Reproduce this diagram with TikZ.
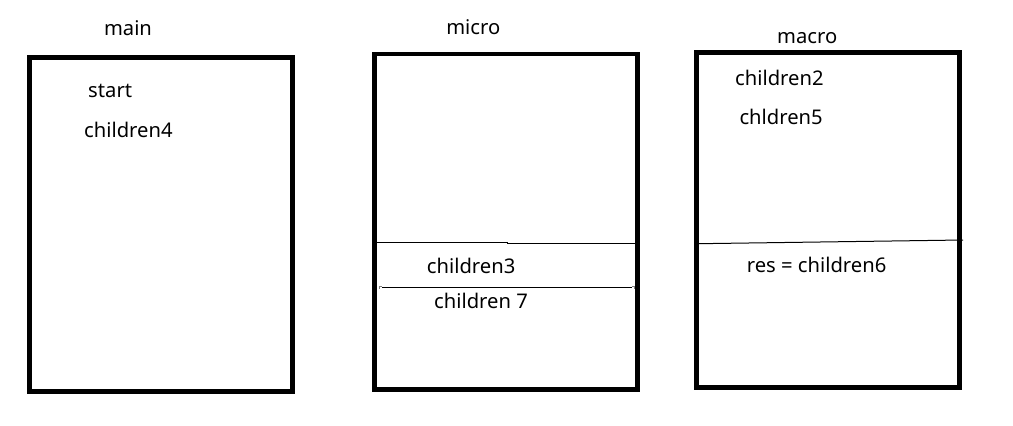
\documentclass[tikz,border=0pt]{standalone}
\usepackage{fontspec}
\setmainfont{Noto Sans}
\begin{document}
\begin{tikzpicture}[x=1pt,y=-1pt,
  frame/.style={draw=black,line width=4.6pt},
  divider/.style={draw=black,line width=1pt},
  tick/.style={draw=gray,line width=0.8pt},
  lbl/.style={anchor=base west,inner sep=0pt,font=\fontsize{20.2}{22}\selectfont},
  ttl/.style={anchor=base,inner sep=0pt,font=\fontsize{20.2}{22}\selectfont}]
\useasboundingbox[fill=white] (0,0) rectangle (1013,426);
% boxes
\draw[frame] (29.7,57.5) rectangle (292.6,391.6);
\draw[frame] (374.3,54) rectangle (637.7,389.3);
\draw[frame] (696.3,52.3) rectangle (959.7,387.7);
% dividers
\coordinate (d1a) at (376.6,242.7);
\coordinate (d1m) at (507,242.7);
\coordinate (d1n) at (507,243.7);
\coordinate (d1b) at (635.4,243.7);
\draw[divider] (d1a) -- (d1m) -- (d1n) -- (d1b);
\coordinate (d2a) at (382,287);
\coordinate (d2b) at (632,287);
\draw[divider] (d2a) -- (d2b);
\draw[tick] (379,289) -- (379,286) -- (382,286);
\draw[tick] (632,286) -- (634,286) -- (634,289);
\coordinate (d3a) at (698.6,243.7);
\coordinate (d3b) at (963,240);
\draw[divider] (d3a) -- (d3b);
% titles
\node[ttl] (tmain) at (128,35) {main};
\node[ttl] (tmicro) at (473.3,34) {micro};
\node[ttl] (tmacro) at (807.2,43) {macro};
% labels
\node[lbl] (start) at (88,97) {start};
\node[lbl] (c4) at (84,137) {children4};
\node[lbl] (c3) at (426.7,273) {children3};
\node[lbl] (c7) at (434,308) {children 7};
\node[lbl] (c2) at (735,85) {children2};
\node[lbl] (c5) at (739.3,124) {chldren5};
\node[lbl] (c6) at (746.7,272.7) {res = children6};
\end{tikzpicture}
\end{document}
